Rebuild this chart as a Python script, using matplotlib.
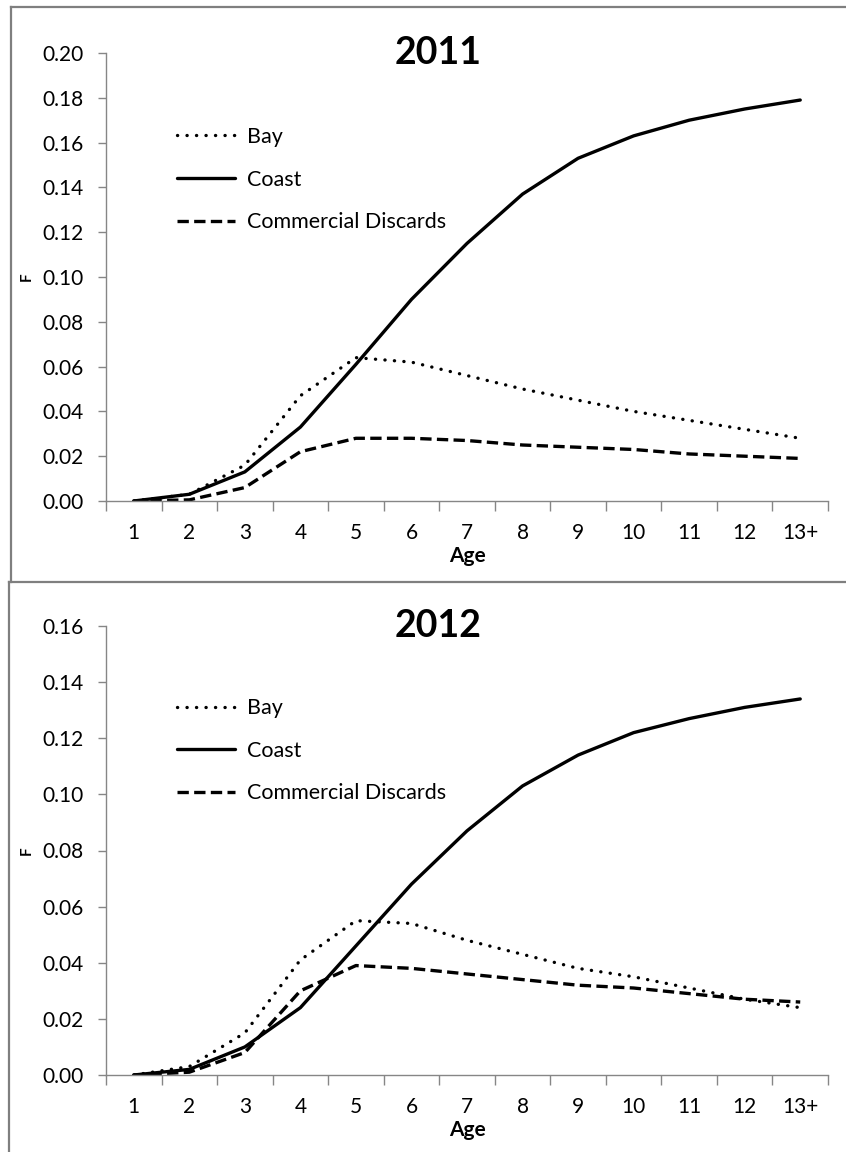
import matplotlib.pyplot as plt
from matplotlib.lines import Line2D

plt.rcParams['font.family'] = ['Lato', 'DejaVu Sans']

ages = ['1', '2', '3', '4', '5', '6', '7', '8', '9', '10', '11', '12', '13+']

# 2011
bay_2011 = [0.000, 0.003, 0.016, 0.047, 0.064, 0.062, 0.056, 0.050, 0.045, 0.040, 0.036, 0.032, 0.028]
coast_2011 = [0.000, 0.003, 0.013, 0.033, 0.061, 0.090, 0.115, 0.137, 0.153, 0.163, 0.170, 0.175, 0.179]
disc_2011 = [0.000, 0.0005, 0.006, 0.022, 0.028, 0.028, 0.027, 0.025, 0.024, 0.023, 0.021, 0.020, 0.019]

# 2012
bay_2012 = [0.000, 0.003, 0.015, 0.041, 0.055, 0.054, 0.048, 0.043, 0.038, 0.035, 0.031, 0.027, 0.024]
coast_2012 = [0.000, 0.002, 0.010, 0.024, 0.046, 0.068, 0.087, 0.103, 0.114, 0.122, 0.127, 0.131, 0.134]
disc_2012 = [0.000, 0.001, 0.008, 0.030, 0.039, 0.038, 0.036, 0.034, 0.032, 0.031, 0.029, 0.027, 0.026]

W, H = 846, 1152
fig = plt.figure(figsize=(W / 100, H / 100), dpi=100)

GREY = '#868686'
BOX = '#7f7f7f'

# panel borders (pixel coords -> figure fraction)
def fline(x0, y0, x1, y1):
    fig.add_artist(Line2D([x0 / W, x1 / W], [1 - y0 / H, 1 - y1 / H],
                          color=BOX, lw=1.6, transform=fig.transFigure))

fline(11, 7, W, 7)
fline(11, 7, 11, 582)
fline(9, 582, W, 582)
fline(9, 582, 9, H)


def panel(rect, title, ymax, bay, coast, disc, leg_top):
    ax = fig.add_axes(rect)
    x = range(1, len(ages) + 1)
    lw = 2.4
    ax.plot(x, bay, color='black', lw=lw, linestyle=(0, (0.05, 2.8)),
            dash_capstyle='round', label='Bay')
    ax.plot(x, coast, color='black', lw=lw, solid_capstyle='round', label='Coast')
    ax.plot(x, disc, color='black', lw=lw, linestyle=(0, (3.4, 1.6)),
            label='Commercial Discards')

    ax.set_xlim(0.5, len(ages) + 0.5)
    ax.set_ylim(0, ymax)
    nt = int(round(ymax / 0.02))
    ax.set_yticks([i * 0.02 for i in range(nt + 1)])
    ax.set_yticklabels([f'{i * 0.02:.2f}' for i in range(nt + 1)])

    # Excel-style category axis: ticks between categories, labels centred
    ax.set_xticks([i + 0.5 for i in range(0, len(ages) + 1)])
    ax.set_xticklabels([])
    ax.set_xticks(list(x), minor=True)
    ax.set_xticklabels(ages, minor=True)
    ax.tick_params(axis='x', which='major', length=7, color=GREY, width=1)
    ax.tick_params(axis='x', which='minor', length=0, pad=16, labelsize=15)
    ax.tick_params(axis='y', length=6, color=GREY, width=1, pad=10, labelsize=15)

    for s in ['top', 'right']:
        ax.spines[s].set_visible(False)
    for s in ['left', 'bottom']:
        ax.spines[s].set_color(GREY)
        ax.spines[s].set_linewidth(1)

    ax.set_xlabel('Age', fontsize=15, fontweight='bold', labelpad=2)
    ax.set_ylabel('F', fontsize=11, fontweight='bold', labelpad=6)
    ax.text(0.46, 1.0, title, transform=ax.transAxes, ha='center', va='center',
            fontsize=27, fontweight='bold')

    ax.legend(loc='upper left', bbox_to_anchor=(0.098, leg_top), frameon=False,
              fontsize=15.5, handlelength=2.7, handletextpad=0.55,
              labelspacing=1.05, borderpad=0, borderaxespad=0)
    return ax


panel([106 / W, 1 - 501 / H, 722 / W, 448 / H], '2011', 0.20,
      bay_2011, coast_2011, disc_2011, 0.835)
panel([106 / W, 1 - 1075 / H, 722 / W, 449 / H], '2012', 0.16,
      bay_2012, coast_2012, disc_2012, 0.839)

fig.savefig('out.png', dpi=100)
